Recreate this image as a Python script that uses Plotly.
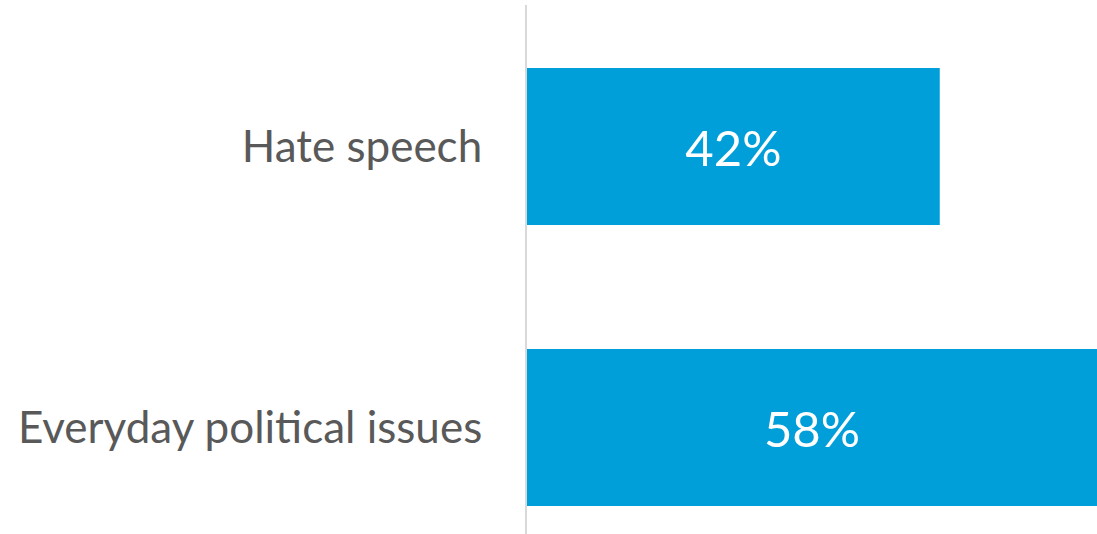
import plotly.graph_objects as go

categories = ["Hate speech", "Everyday political issues"]
values = [42, 58]
labels = ["42%", "58%"]

fig = go.Figure(go.Bar(
    x=values,
    y=categories,
    orientation="h",
    width=0.559,
    marker=dict(color="#009FDA", line=dict(width=0)),
    text=labels,
    textposition="inside",
    insidetextanchor="middle",
    textfont=dict(color="white", size=49, family="Lato"),
    cliponaxis=False,
))

fig.update_layout(
    width=1097,
    height=534,
    margin=dict(l=527, r=0, t=5, b=0),
    paper_bgcolor="white",
    plot_bgcolor="white",
    showlegend=False,
    font=dict(family="Lato", color="#595959"),
    xaxis=dict(range=[0, 58], visible=False, showgrid=False, zeroline=False),
    yaxis=dict(
        range=[1.379, -0.5036],
        showline=True,
        linecolor="#d9d9d9",
        linewidth=2,
        showgrid=False,
        zeroline=False,
        ticks="",
        ticklabelstandoff=34,
        tickfont=dict(size=44, color="#595959", family="Lato"),
    ),
)

fig.write_html(
    "out.html",
    config={"displayModeBar": False},
    post_script="document.body.style.margin='0';document.body.style.padding='0';",
)
